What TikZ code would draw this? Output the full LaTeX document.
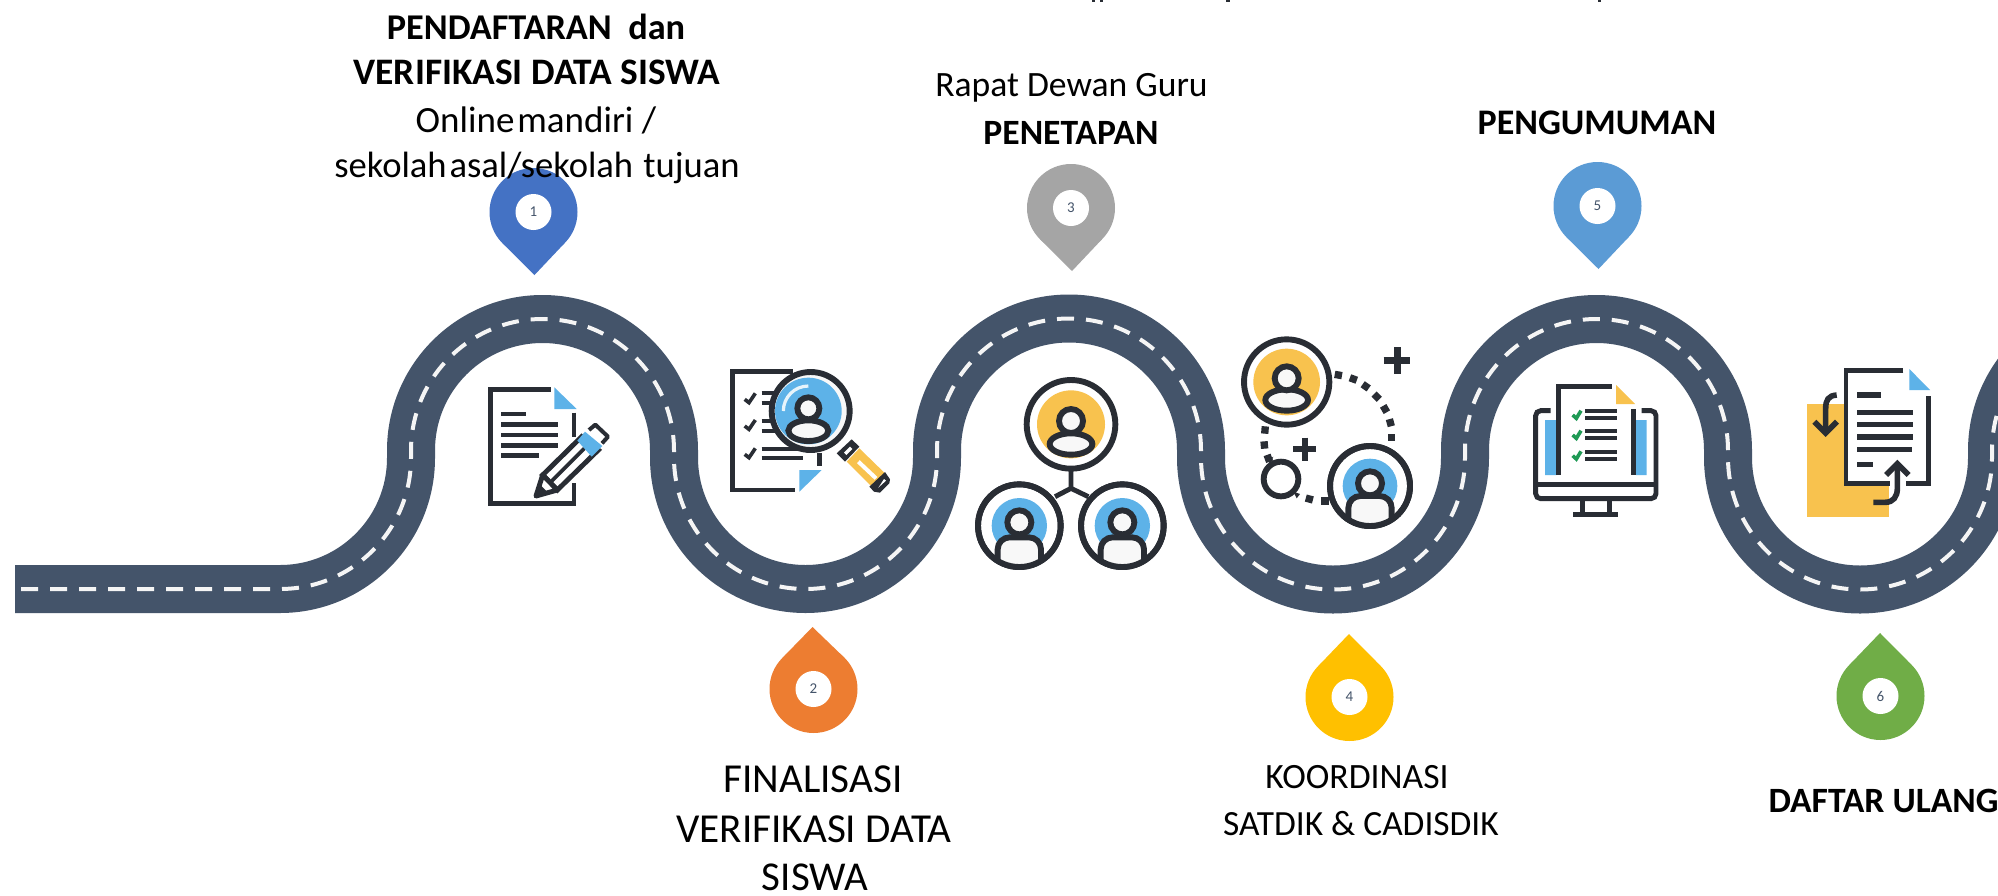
\documentclass[tikz,border=0pt]{standalone}
\usepackage{fontspec}
\setmainfont{Carlito}
\usetikzlibrary{calc}
\definecolor{roadc}{HTML}{44546A}
\definecolor{ink}{HTML}{292D34}
\definecolor{skyc}{HTML}{5DB2E8}
\definecolor{sunc}{HTML}{F8C24E}
\definecolor{paper}{HTML}{F8F8F8}
\definecolor{tickc}{HTML}{1F9A55}
\definecolor{pinA}{HTML}{4472C4}
\definecolor{pinB}{HTML}{ED7D31}
\definecolor{pinC}{HTML}{A5A5A5}
\definecolor{pinD}{HTML}{FFC000}
\definecolor{pinE}{HTML}{5B9BD5}
\definecolor{pinF}{HTML}{70AD47}
\tikzset{
  ik/.style={draw=ink,line width=2.45pt,line cap=butt,line join=miter},
  ring/.style={draw=ink,line width=2.95pt},
  thin ik/.style={draw=ink,line width=1.9pt},
  numlab/.style={circle,fill=white,inner sep=0pt,minimum size=18pt,text=roadc,font=\fontsize{7.5}{9}\selectfont},
  lab/.style={anchor=base,inner sep=0pt,text=black},
}
\newcommand{\mypin}[8]{%
  \fill[#7] (#2,#3) circle[radius=44];
  \fill[#7] (#4,#5) -- ({#2-31.5},{#3+#6*30.7}) -- ({#2+31.5},{#3+#6*30.7}) -- cycle;
  \node[numlab] (#1) at (#2,#3) {#8};
}
\newcommand{\sz}[1]{\fontsize{#1}{#1}\selectfont}
\newcommand{\personlens}[3]{%
  \draw[ring,fill=paper] (#1,#3) ellipse[x radius=64,y radius=32];
  \draw[ring,fill=paper] (#1,#2) circle[radius=36];
}
\newcommand{\personround}[5]{%
  \begin{scope}
    \clip (#1,#2) circle[radius=#3];
    \draw[ring,fill=paper,rounded corners=6pt] ({#1-65},{#5+110}) -- ({#1-65},#5) -- ({#1+65},#5) -- ({#1+65},{#5+110});
  \end{scope}
  \draw[ring,fill=paper] (#1,#4) circle[radius=36];
}
\begin{document}
\begin{tikzpicture}[x=0.5pt,y=-0.5pt]
\useasboundingbox (0,0) rectangle (1998,895);
\fill[white] (0,0) rectangle (1998,895);
\fill[ink] (1092,0) rectangle (1095,2);
\fill[ink] (1100,0) rectangle (1103,2);
\fill[ink] (1226,0) rectangle (1230,2);
\fill[ink] (1598,0) rectangle (1601,2);
% road
\begin{scope}
\clip (0,0) rectangle (1998,895);
\draw[roadc,line width=24pt] (15,589) -- (280,589) arc(90:0:131) -- (411,450.5) arc(180:360:131.5) -- (674,457.5) arc(180:0:131.5) -- (937,450.5) arc(180:360:132) -- (1201,457.5) arc(180:0:132) -- (1465,450.5) arc(180:360:131.5) -- (1728,457.5) arc(180:0:132) -- (1992,450.5) arc(180:270:131.5);
\draw[white!96!black,line width=2pt,dash pattern=on 8.5pt off 6pt] (21,589) -- (280,589) arc(90:0:131) -- (411,450.5) arc(180:360:131.5) -- (674,457.5) arc(180:0:131.5) -- (937,450.5) arc(180:360:132) -- (1201,457.5) arc(180:0:132) -- (1465,450.5) arc(180:360:131.5) -- (1728,457.5) arc(180:0:132) -- (1992,450.5) arc(180:270:131.5);
\end{scope}
% icons 1 and 2
\begin{scope}[shift={(450,340)},x=0.1666667pt,y=-0.1666667pt]
 \draw[ik] (302,149) -- (121,149) -- (121,490) -- (372,490) -- (372,430);
 \fill[skyc] (313,142) -- (380,207) -- (313,207) -- cycle;
 \draw[ik] (372,218) -- (372,290);
 \draw[ik] (154,222) -- (227,222) (154,254) -- (325,254) (154,285) -- (325,285) (154,316) -- (325,316) (154,347) -- (266,347);
 % pencil
 \draw[ik,fill=white] (278,405) -- (395,290) -- (445,330) -- (322,450) -- cycle;
 \draw[thin ik] (300,428) -- (418,310);
 \draw[ik,fill=white,line join=round] (278,405) -- (258,468) -- (322,450) -- cycle;
 \fill[ink] (258,468) -- (272,436) -- (290,454) -- cycle;
 \fill[skyc] (405,275) -- (457,318) -- (425,350) -- (382,302) -- cycle;
 \draw[ik,line width=2pt,line join=round] (417,270) -- (436,254) -- (474,290) -- (456,310);
 % document behind the magnifier
 \draw[ik] (1030,95) -- (847,95) -- (847,450) -- (1035,450);
 \fill[skyc] (1048,455) -- (1115,390) -- (1048,390) -- cycle;
 \draw[ik] (1108,340) -- (1108,378);
 \foreach \yy in {178,258,343} \draw[ik,line width=1.8pt] (884,\yy) -- (897,{\yy+10}) -- (916,{\yy-18});
 \draw[ik,line width=1.9pt] (935,160) -- (975,160) (935,190) -- (975,190) (935,243) -- (975,243) (935,272) -- (975,272) (935,326) -- (1050,326) (935,354) -- (1058,354);
 % handle
 \fill[sunc] (1190,365) -- (1228,325) -- (1305,400) -- (1265,440) -- cycle;
 \draw[white,line width=2pt] (1225,365) -- (1278,415);
 \fill[ink] (1160,340) -- (1205,298) -- (1228,320) -- (1185,365) -- cycle;
 \fill[white] (1182,338) -- (1200,320) -- (1207,327) -- (1189,345) -- cycle;
 \fill[ink] (1305,396) -- (1320,418) -- (1318,430) -- (1290,458) -- (1272,455) -- (1258,440) -- cycle;
 \fill[white] (1302,417) -- (1308,422) -- (1285,443) -- cycle;
 % lens
 \draw[ring,fill=paper] (1082,213) circle[radius=117];
 \fill[skyc] (1075,213) circle[radius=100];
 \draw[white!85!skyc,line width=1.6pt] (1075,138) arc(270:180:75);
 \draw[ring,fill=paper] (1075,272) ellipse[x radius=60,y radius=31];
 \draw[ring,fill=paper] (1075,205) circle[radius=33];
\end{scope}
% icons 3 and 4
\begin{scope}[shift={(940,320)},x=0.1666667pt,y=-0.1666667pt]
 \draw[ik] (393,450) -- (393,505) -- (345,530) (393,505) -- (445,530);
 \draw[ring,fill=white] (393,313) circle[radius=133];
 \fill[sunc] (393,313) circle[radius=102];
 \personlens{393}{303}{372}
 \foreach \cx in {238,547} {
   \draw[ring,fill=white] (\cx,617) circle[radius=124];
   \fill[skyc] (\cx,617) circle[radius=83];
   \personround{\cx}{617}{124}{607}{652}
   \draw[ring] (\cx,617) circle[radius=124];
 }
 \draw[ring,fill=white] (1040,186) circle[radius=128];
 \fill[sunc] (1040,186) circle[radius=100];
 \personlens{1040}{175}{240}
 \draw[ik,line width=3.5pt] (1371,82) -- (1371,162) (1331,122) -- (1411,122);
 \draw[ik,line width=3pt] (1094,353) -- (1094,423) (1059,388) -- (1129,388);
 \foreach \px/\py/\pa in {1195/165/10,1240/177/20,1277/199/35,1310/230/45,1335/267/60,1351/308/75,1355/352/90,975/330/95,973/375/85,985/415/70,1108/537/15,1155/543/0} {
   \fill[ink,rotate around={-\pa:(\px,\py)}] ({\px-11},{\py-11}) rectangle ({\px+11},{\py+11});
 }
 \draw[ring,fill=white] (1023,477) circle[radius=52];
 \fill[ink] (1060,515) -- (1080,522) -- (1070,535) -- cycle;
 \fill[ink] (985,420) -- (1000,410) -- (990,435) -- cycle;
 \draw[ring,fill=white] (1290,498) circle[radius=120];
 \fill[skyc] (1290,498) circle[radius=82];
 \personround{1290}{498}{120}{490}{528}
 \draw[ring] (1290,498) circle[radius=120];
\end{scope}
% icons 5 and 6
\begin{scope}[shift={(1500,340)},x=0.1666667pt,y=-0.1666667pt]
 \fill[skyc] (135,240) rectangle (168,405) (408,240) rectangle (440,405);
 \draw[ik,rounded corners=2.5pt] (152,212) -- (107,212) -- (107,476) -- (468,476) -- (468,212) -- (425,212);
 \draw[ik] (107,433) -- (468,433);
 \draw[ik] (247,480) -- (247,522) (328,480) -- (328,522);
 \draw[ik] (220,523) -- (355,523);
 \draw[ik] (176,405) -- (176,139) -- (337,139);
 \draw[ik] (400,207) -- (400,405);
 \fill[sunc] (348,135) -- (405,192) -- (348,192) -- cycle;
 \foreach \yy in {225,285,347} {
   \draw[tickc,line width=1.8pt] (218,\yy) -- (229,{\yy+10}) -- (243,{\yy-13});
   \draw[ik,line width=1.9pt] (255,{\yy-12}) -- (350,{\yy-12}) (255,{\yy+9}) -- (350,{\yy+9});
 }
 \fill[sunc] (921,192) rectangle (1167,530);
 \fill[white] (1038,92) rectangle (1285,430);
 \draw[ik] (1210,92) -- (1038,92) -- (1038,430) -- (1170,430);
 \draw[ik] (1218,430) -- (1285,430) -- (1285,167);
 \fill[skyc] (1228,87) -- (1290,150) -- (1228,150) -- cycle;
 \draw[ik,line width=2.8pt] (1071,165) -- (1142,165);
 \draw[ik,line width=2.8pt] (1071,217) -- (1238,217) (1071,254) -- (1238,254) (1071,291) -- (1238,291) (1071,328) -- (1236,328);
 \draw[ik,line width=2.8pt] (1071,374) -- (1118,374);
 \draw[ik,line width=2.8pt] (1010,165) .. controls (985,167) and (977,180) .. (977,205) -- (977,275);
 \draw[ik,line width=2.8pt] (943,245) -- (977,279) -- (1011,245);
 \draw[ik,line width=2.8pt] (1120,487) -- (1155,487) .. controls (1180,487) and (1192,470) .. (1192,445) -- (1192,375);
 \draw[ik,line width=2.8pt] (1158,405) -- (1192,371) -- (1226,405);
\end{scope}
% pins
\mypin{p1}{533.5}{212}{534.5}{275}{1}{pinA}{1}
\mypin{p2}{813.5}{689}{812.5}{627}{-1}{pinB}{2}
\mypin{p3}{1071}{208}{1072}{271}{1}{pinC}{3}
\mypin{p4}{1349.5}{697}{1349}{634}{-1}{pinD}{4}
\mypin{p5}{1597.5}{206}{1598.5}{269}{1}{pinE}{5}
\mypin{p6}{1880.5}{696}{1880}{633}{-1}{pinF}{6}
% labels
\node[lab,font=\sz{18.15}\bfseries] (t1a) at (536,39) {PENDAFTARAN\ \ dan};
\node[lab,font=\sz{18.7}\bfseries] (t1b) at (537,84) {VERIFIKASI DATA SISWA};
\node[lab,font=\sz{18.5}] (t1c) at (536,132) {\spaceskip=0.08em Online mandiri \hspace{0.15em}/};
\node[lab,font=\sz{18.3}] (t1d) at (537,177) {\spaceskip=0.08em sekolah asal/sekolah\hspace{0.2em} tujuan};
\node[lab,font=\sz{17.8}] (t3a) at (1071.5,96.5) {Rapat Dewan Guru};
\node[lab,font=\sz{17.8}\bfseries] (t3b) at (1071,144) {PENETAPAN};
\node[lab,font=\sz{18}\bfseries] (t5) at (1597,134) {PENGUMUMAN};
\node[lab,font=\sz{20.6}] (t2a) at (813,792) {FINALISASI};
\node[lab,font=\sz{20.6}] (t2b) at (814,842) {VERIFIKASI DATA};
\node[lab,font=\sz{20.5}] (t2c) at (815,890) {SISWA};
\node[lab,font=\sz{17.8}] (t4a) at (1357,788) {KOORDINASI};
\node[lab,font=\sz{17.7}] (t4b) at (1361,835) {SATDIK \& CADISDIK};
\node[lab,font=\sz{17.8}\bfseries] (t6) at (1883.5,812) {DAFTAR ULANG};
\end{tikzpicture}
\end{document}
